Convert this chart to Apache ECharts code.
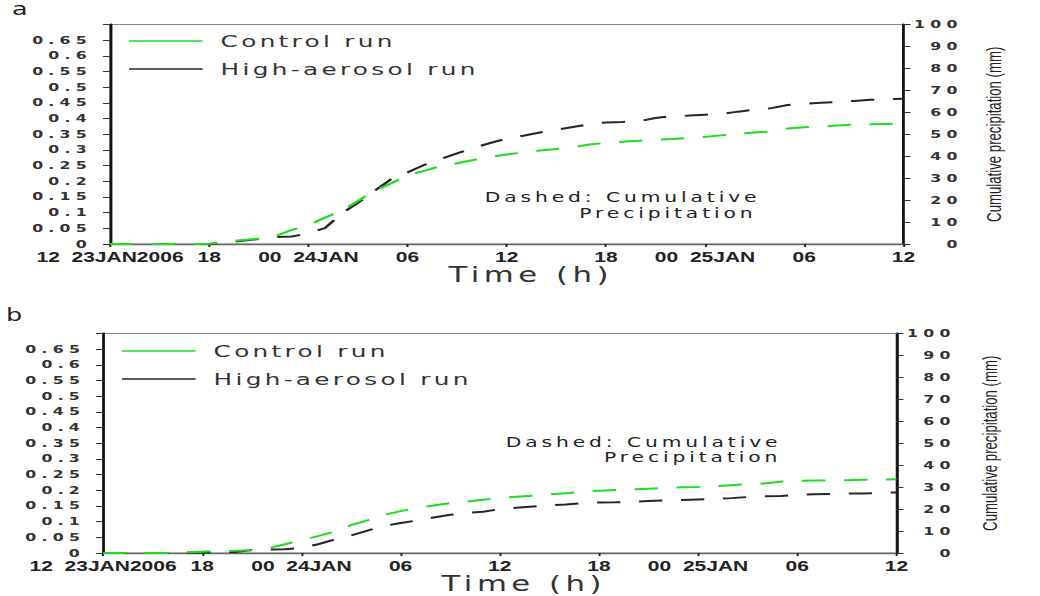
<!DOCTYPE html>
<html>
<head>
<meta charset="utf-8">
<script src="https://cdn.jsdelivr.net/npm/echarts@6/dist/echarts.min.js"></script>
<style>
html, body { margin: 0; padding: 0; background: #fff; overflow: hidden; }
#wrap { width: 1040px; height: 596px; overflow: hidden; }
#chart { width: 693px; height: 596px; transform: scaleX(1.50072); transform-origin: 0 0; }
#chart text[style*="10.5px"] { letter-spacing: 3.5px; }
#chart text[style*="16.5px"] { letter-spacing: 2.2px; }
#chart text[style*="13.5px"] { letter-spacing: 2.6px; }
#chart text[style*="20.5px"] { letter-spacing: 3px; }
</style>
</head>
<body>
<div id="wrap"><div id="chart"></div></div>
<script>
// ---------- data ----------
const hours = [0,1,2,3,4,5,6,7,8,9,10,11,12,13,14,15,16,17,18,19,20,21,22,23,24,
               25,26,27,28,29,30,31,32,33,34,35,36,37,38,39,40,41,42,43,44,45,46,47,48];
const xTickLabels = ['12  23JAN2006', '18', '00  24JAN', '06', '12', '18', '00  25JAN', '06', '12'];
const seriesNames = ['Control run', 'High-aerosol run'];

// panel a: cumulative precipitation (mm)
const controlA = [0,0,0,0,0,0,0.1,1.0,1.8,2.4,3.5,6.4,8.6,12.0,15.1,19.6,24.2,27.6,31.3,33.3,35.5,36.8,38.3,39.7,40.8,
                  41.7,42.6,43.3,44.0,45.3,46.1,46.6,47.0,47.5,47.8,48.3,48.8,49.5,50.3,50.8,51.3,52.6,53.2,53.6,54.0,54.4,54.5,54.7,54.8];
const aerosolA = [0,0,0,0,0,0,0,0.6,1.5,2.3,3.1,3.4,4.9,7.2,13.8,18.8,24.2,29.5,32.6,36.0,38.7,41.3,43.8,46.0,48.0,
                  49.3,50.8,52.0,53.3,54.6,55.4,55.6,55.9,57.4,58.3,58.5,58.9,59.3,60.3,61.2,61.9,63.3,63.9,64.4,64.7,65.2,65.7,65.9,66.2];
// panel b
const controlB = [0,0,0,0,0,0.3,0.6,0.9,1.0,1.3,2.2,4.0,5.8,7.7,9.7,12.7,14.9,17.4,19.1,20.5,21.6,22.7,23.4,24.3,25.1,
                  25.6,26.1,26.7,27.2,27.9,28.4,28.7,29.0,29.3,29.6,29.9,30.1,30.4,30.9,31.3,31.7,32.5,32.8,33.0,33.1,33.2,33.4,33.5,33.6];
const aerosolB = [0,0,0,0,0,0.1,0.2,0.3,0.5,1.4,1.6,1.7,2.3,4.0,6.1,8.0,10.2,12.3,13.7,14.8,16.2,17.4,18.3,18.8,20.0,
                  20.6,21.2,21.8,22.1,22.7,23.0,23.1,23.3,23.7,24.0,24.2,24.4,24.6,25.0,25.5,25.9,26.0,26.5,26.8,26.9,27.1,27.1,27.4,27.6];

const GREEN = '#1edc1e';
const BLACK = '#262626';
const pairs = arr => hours.map((h, i) => [h, arr[i]]);

function xAxis(gi) {
  return {
    type: 'value', gridIndex: gi, min: 0, max: 48, interval: 6,
    name: 'Time (h)', nameLocation: 'middle', nameGap: 19,
    nameTextStyle: { fontFamily: 'DejaVu Sans', fontSize: 20.5, color: '#333', padding: [0, 0, 0, 32] },
    axisLine: { show: true, onZero: false, lineStyle: { color: '#666', width: 1.3 } },
    axisTick: { show: true, length: 3, lineStyle: { color: '#222', width: 1.3 } },
    axisLabel: {
      formatter: v => xTickLabels[Math.round(v / 6)],
      fontFamily: 'Liberation Sans', fontWeight: 'bold', fontSize: 14, color: '#222', margin: 6
    },
    splitLine: { show: false }
  };
}
function leftAxis(gi) {
  return {
    type: 'value', gridIndex: gi, position: 'left', min: 0, max: 0.7, interval: 0.05,
    axisLine: { show: true, lineStyle: { color: '#111', width: 1.8 } },
    axisTick: { show: true, length: 4.7, lineStyle: { color: '#333', width: 1 } },
    axisLabel: {
      formatter: v => (v > 0.68 ? '' : String(Math.round(v * 100) / 100)),
      fontFamily: 'DejaVu Sans', fontWeight: 'bold', fontSize: 10.5, color: '#333', margin: 12
    },
    splitLine: { show: false }
  };
}
function rightAxis(gi, gap) {
  return {
    type: 'value', gridIndex: gi, position: 'right', min: 0, max: 100, interval: 10,
    name: 'Cumulative precipitation (mm)', nameLocation: 'middle', nameRotate: 90, nameGap: gap,
    nameTextStyle: { fontFamily: 'Liberation Sans', fontSize: 13.2, color: '#222' },
    axisLine: { show: true, lineStyle: { color: '#111', width: 1.8 } },
    axisTick: { show: true, length: 4.7, lineStyle: { color: '#333', width: 1 } },
    axisLabel: {
      align: 'right', margin: 39.5,
      fontFamily: 'DejaVu Sans', fontWeight: 'bold', fontSize: 10.5, color: '#333'
    },
    splitLine: { show: false }
  };
}
function lineSeries(name, data, color, xi, yi, z) {
  return {
    type: 'line', name, data: pairs(data), xAxisIndex: xi, yAxisIndex: yi,
    showSymbol: false, symbol: 'none', z,
    lineStyle: { color, width: 2, type: [15.5, 12.5] },
    itemStyle: { color }
  };
}
function legend(left, top) {
  return {
    data: seriesNames, orient: 'vertical', left, top, padding: 0,
    icon: 'rect', itemWidth: 49, itemHeight: 1.3, itemGap: 10,
    selectedMode: false,
    textStyle: { fontFamily: 'DejaVu Sans', fontSize: 16.5, color: '#333', lineHeight: 18, padding: [0, 0, 0, 7] }
  };
}
function annot(x1, y1, x2, y2) {
  return [
    { type: 'text', left: x1, top: y1, style: { text: 'Dashed: Cumulative', font: '13.5px "DejaVu Sans"', fill: '#222' } },
    { type: 'text', left: x2, top: y2, style: { text: 'Precipitation', font: '13.5px "DejaVu Sans"', fill: '#222' } }
  ];
}

const chart = echarts.init(document.getElementById('chart'), null, { renderer: 'svg' });
chart.setOption({
  animation: false,
  backgroundColor: '#fff',
  grid: [
    { left: 73.3, right: 91, top: 24.5, height: 219.5, show: true, borderColor: '#888', borderWidth: 1.2, backgroundColor: 'transparent' },
    { left: 68.7, right: 95.7, top: 333.5, height: 219.5, show: true, borderColor: '#888', borderWidth: 1.2, backgroundColor: 'transparent' }
  ],
  xAxis: [xAxis(0), xAxis(1)],
  yAxis: [leftAxis(0), rightAxis(0, 54), leftAxis(1), rightAxis(1, 56)],
  legend: [legend(86, 32), legend(81.3, 342)],
  series: [
    lineSeries('High-aerosol run', aerosolA, BLACK, 0, 1, 2),
    lineSeries('Control run', controlA, GREEN, 0, 1, 3),
    lineSeries('High-aerosol run', aerosolB, BLACK, 1, 3, 2),
    lineSeries('Control run', controlB, GREEN, 1, 3, 3)
  ],
  graphic: [
    { type: 'text', left: 8, top: 1, style: { text: 'a', font: '17px "DejaVu Sans"', fill: '#222' } },
    { type: 'text', left: 4, top: 307, style: { text: 'b', font: '17px "DejaVu Sans"', fill: '#222' } },
    ...annot(323, 190, 386, 206),
    ...annot(337, 435, 402.5, 450)
  ]
});
</script>
</body>
</html>
